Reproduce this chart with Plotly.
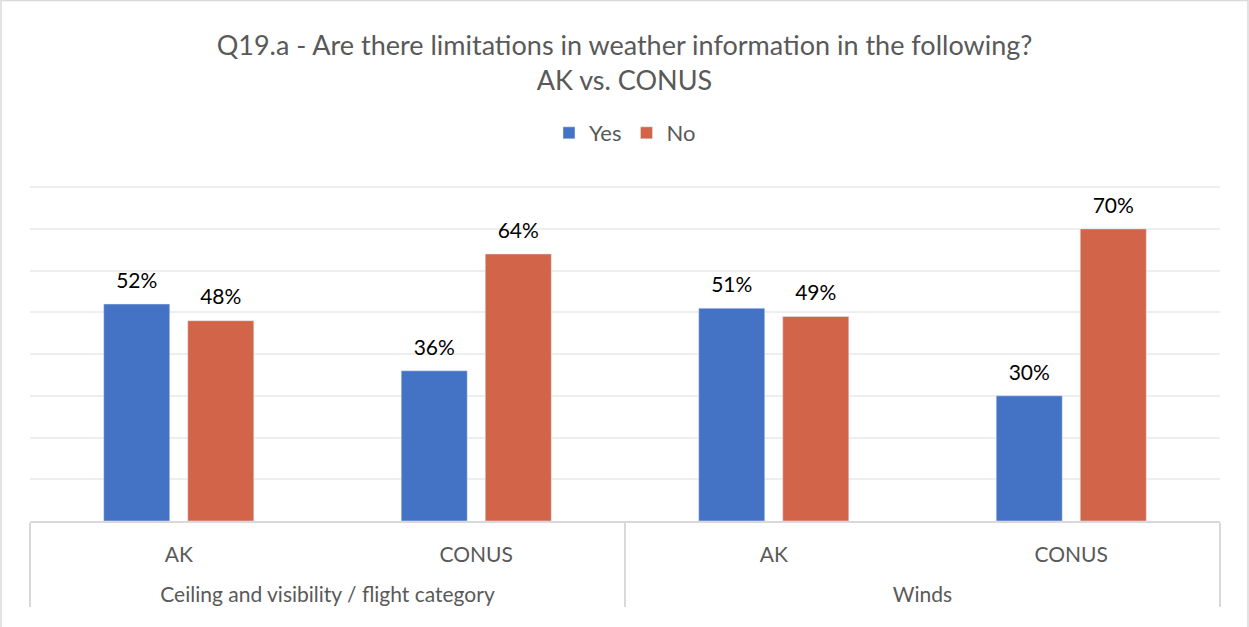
import plotly.graph_objects as go

groups = ["Ceiling and visibility / flight category", "Ceiling and visibility / flight category", "Winds", "Winds"]
regions = ["AK", "CONUS", "AK", "CONUS"]
yes_vals = [52, 36, 51, 30]
no_vals = [48, 64, 49, 70]

W, H = 1249, 627
YMAX = 81
L, R, T, B = 30, 29, 183, 106
FONT = "Lato, 'Open Sans', sans-serif"
BAR_GAP = 0.435

group_labels = ["<br>" + g for g in groups]
xcats = [group_labels, regions]

fig = go.Figure()
for name, vals, color in [("Yes", yes_vals, "#4472C4"), ("No", no_vals, "#D2644A")]:
    fig.add_trace(go.Bar(name=name, x=xcats, y=vals, marker_color=color,
                         offsetgroup=name, hoverinfo="skip"))
for name, vals in [("Yes", yes_vals), ("No", no_vals)]:
    fig.add_trace(go.Scatter(x=xcats, y=vals, mode="markers+text", offsetgroup=name,
                             text=[f"{v}%" for v in vals], textposition="top center",
                             marker=dict(size=16, color="rgba(0,0,0,0)"),
                             textfont=dict(color="#000000", size=21, family=FONT),
                             showlegend=False, cliponaxis=False, hoverinfo="skip"))

pw = W - L - R
ph = H - T - B
fig.update_layout(
    width=W, height=H,
    margin=dict(l=L, r=R, t=T, b=B, autoexpand=False),
    paper_bgcolor="white", plot_bgcolor="white",
    font=dict(family=FONT, color="#595959", size=20),
    title=dict(text="Q19.a - Are there limitations in weather information in the following?<br>AK vs. CONUS",
               x=0.5, xanchor="center", y=1 - 55 / H, yanchor="middle",
               font=dict(size=27, color="#595959", family=FONT)),
    legend=dict(orientation="h", x=0.5, xanchor="center", y=1 + (T - 133) / ph, yanchor="middle",
                font=dict(size=22, color="#595959", family=FONT), traceorder="normal"),
    barmode="group", bargap=BAR_GAP, bargroupgap=0.214,
    scattermode="group", scattergap=BAR_GAP,
    showlegend=True,
    xaxis=dict(type="multicategory", automargin=False, showline=True, linecolor="#D9D9D9", linewidth=1.5,
               showdividers=True, dividercolor="#D9D9D9", dividerwidth=1.5,
               ticklabelstandoff=14,
               tickfont=dict(size=21, color="#595959", family=FONT), ticks=""),
    yaxis=dict(range=[0, YMAX], dtick=10, showticklabels=False, showgrid=True, automargin=False,
               gridcolor="#EEEEEE", gridwidth=1.5, zeroline=False, showline=False),
    shapes=[dict(type="rect", xref="paper", yref="paper",
                 x0=(1 - L) / pw, x1=(W - 1 - L) / pw,
                 y0=-(B + 5) / ph, y1=(T - 0.5) / ph + 1,
                 line=dict(color="#D9D9D9", width=1.5), layer="below")],
)
fig.write_html("out.html", config={"displayModeBar": False},
               post_script="document.body.style.margin='0';")
